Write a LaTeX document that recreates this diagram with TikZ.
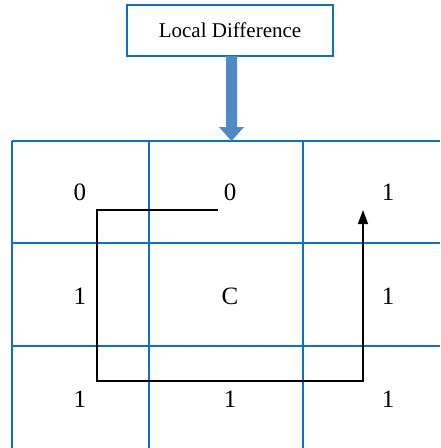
\documentclass[tikz,border=0pt]{standalone}
\usepackage{fontspec}
\setmainfont{Liberation Serif}
\usetikzlibrary{arrows.meta}
\definecolor{gridblue}{RGB}{10,112,200}
\definecolor{arrowblue}{RGB}{79,138,196}
\begin{document}
\begin{tikzpicture}[x=1pt,y=-1pt,
  gridline/.style={draw=gridblue,line width=2pt},
  cellnum/.style={font=\fontsize{25}{27}\selectfont,inner sep=0pt},
  titlebox/.style={draw=gridblue,line width=2pt,minimum width=206pt,minimum height=51pt,font=\fontsize{21}{24}\selectfont,inner sep=0pt},
  pathline/.style={draw=black,line width=1.5pt},
  bigarrow/.style={fill=arrowblue,draw=none}]
\useasboundingbox (0,0) rectangle (440,448);
% grid
\draw[gridline] (12,141) -- (440,141);
\draw[gridline] (12,243) -- (440,243);
\draw[gridline] (12,346) -- (440,346);
\draw[gridline] (12,141) -- (12,448);
\draw[gridline] (149,141) -- (149,448);
\draw[gridline] (303,141) -- (303,448);
% title
\node[titlebox] (title) at (230,30.5) {Local Difference};
% big arrow
\fill[bigarrow] (226,56) -- (237,56) -- (237,127) -- (244,127) -- (231.5,141) -- (219,127) -- (226,127) -- cycle;
% cell values
\node[cellnum] (c11) at (80,192) {0};
\node[cellnum] (c12) at (230,192) {0};
\node[cellnum] (c13) at (388,192) {1};
\node[cellnum] (c21) at (80,296) {1};
\node[cellnum] (c22) at (230,296) {C};
\node[cellnum] (c23) at (388,296) {1};
\node[cellnum] (c31) at (80,399) {1};
\node[cellnum] (c32) at (230,399) {1};
\node[cellnum] (c33) at (388,399) {1};
% traversal path
\coordinate (p0) at (218,210);
\coordinate (p1) at (97,210);
\coordinate (p2) at (97,381);
\coordinate (p3) at (363,381);
\coordinate (p4) at (363,210);
\draw[pathline,-{Triangle[length=14pt,width=10pt]}] (p0) -- (p1) -- (p2) -- (p3) -- (p4);
\end{tikzpicture}
\end{document}
